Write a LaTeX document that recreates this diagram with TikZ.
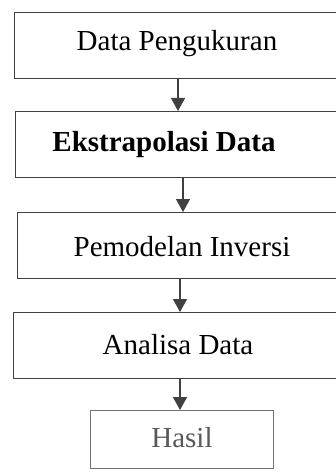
\documentclass[tikz,border=0pt]{standalone}
\usepackage{fontspec}
\setmainfont{Liberation Serif}
\usetikzlibrary{arrows.meta}
\begin{document}
\begin{tikzpicture}[x=1pt,y=-1pt,
  stepbox/.style={draw=black!75,line width=1.3pt,rectangle,minimum width=336pt,minimum height=66pt,inner sep=0pt,anchor=north west},
  lastbox/.style={draw=black!55,line width=1.1pt,rectangle,minimum width=183pt,minimum height=58pt,inner sep=0pt,anchor=north west},
  steptext/.style={font=\fontsize{29}{32}\selectfont,text=black,inner sep=0pt},
  arr/.style={draw=black!75,line width=1.3pt,-{Triangle[length=13pt,width=14pt]}}]
\useasboundingbox (0,0) rectangle (336,473);
\clip (0,0) rectangle (336,473);
\fill[white] (0,0) rectangle (336,473);
\node[stepbox] (b1) at (14,12) {};
\node[stepbox] (b2) at (15,111) {};
\node[stepbox] (b3) at (17,212) {};
\node[stepbox] (b4) at (13,312) {};
\node[lastbox] (b5) at (90,410) {};
\node[steptext] (t1) at (177,44) {Data Pengukuran};
\node[steptext,font=\fontsize{29}{32}\selectfont\bfseries] (t2) at (164,145) {Ekstrapolasi Data};
\node[steptext] (t3) at (182,247) {Pemodelan Inversi};
\node[steptext] (t4) at (178,345) {Analisa Data};
\node[steptext,text=black!65] (t5) at (182,438) {Hasil};
\coordinate (a1) at (178,0);
\coordinate (a2) at (183,0);
\coordinate (a3) at (180,0);
\coordinate (a4) at (180,0);
\draw[arr] (b1.south -| a1) -- (b2.north -| a1);
\draw[arr] (b2.south -| a2) -- (b3.north -| a2);
\draw[arr] (b3.south -| a3) -- (b4.north -| a3);
\draw[arr] (b4.south -| a4) -- (b5.north -| a4);
\end{tikzpicture}
\end{document}
